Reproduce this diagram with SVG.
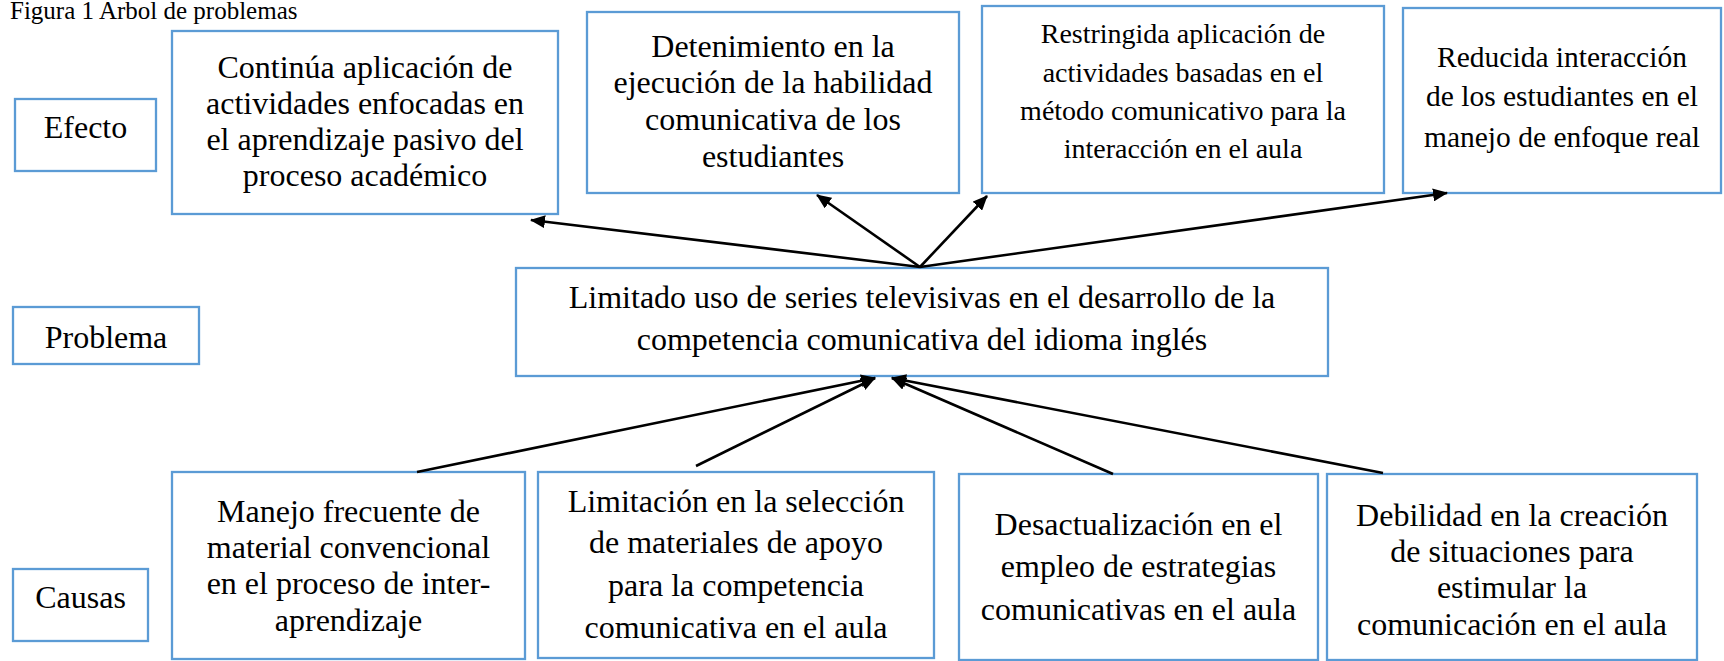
<svg xmlns="http://www.w3.org/2000/svg" width="1724" height="661" viewBox="0 0 1724 661">
<style>
.box{fill:#fff;stroke:#5b9bd5;stroke-width:2.3}
.t{font-family:"Liberation Serif","Times New Roman",serif;font-size:32px;text-anchor:middle;fill:#000}
.title{font-family:"Liberation Serif","Times New Roman",serif;font-size:25px;fill:#000}
.c{stroke:#000;stroke-width:2.6;fill:none;marker-end:url(#ah)}
</style>
<defs>
<marker id="ah" viewBox="0 0 15 13" refX="14" refY="6.5" markerWidth="15" markerHeight="13" markerUnits="userSpaceOnUse" orient="auto">
<path d="M0,0 L15,6.5 L0,13 z" fill="#000"/>
</marker>
</defs>
<rect width="1724" height="661" fill="#fff"/>
<text class="title" x="10" y="19">Figura 1 Arbol de problemas</text>

<g id="efecto">
<rect class="box" x="15" y="99" width="141" height="72"/>
<text class="t" x="85.5" y="138">Efecto</text>
</g>
<g id="problema-label">
<rect class="box" x="13" y="307" width="186" height="57"/>
<text class="t" x="106" y="348">Problema</text>
</g>
<g id="causas">
<rect class="box" x="13" y="569" width="135" height="72"/>
<text class="t" x="80.5" y="608">Causas</text>
</g>

<g id="efecto1">
<rect class="box" x="172" y="31" width="386" height="183"/>
<text class="t" x="365" y="78">Continúa aplicación de</text>
<text class="t" x="365" y="114">actividades enfocadas en</text>
<text class="t" x="365" y="150">el aprendizaje pasivo del</text>
<text class="t" x="365" y="186">proceso académico</text>
</g>
<g id="efecto2">
<rect class="box" x="587" y="12" width="372" height="181"/>
<text class="t" x="773" y="57">Detenimiento en la</text>
<text class="t" x="773" y="93">ejecución de la habilidad</text>
<text class="t" x="773" y="130">comunicativa de los</text>
<text class="t" x="773" y="167">estudiantes</text>
</g>
<g id="efecto3">
<rect class="box" x="982" y="6" width="402" height="187"/>
<text class="t" x="1183" y="43" style="font-size:28px">Restringida aplicación de</text>
<text class="t" x="1183" y="82" style="font-size:28px">actividades basadas en el</text>
<text class="t" x="1183" y="120" style="font-size:28px">método comunicativo para la</text>
<text class="t" x="1183" y="158" style="font-size:28px">interacción en el aula</text>
</g>
<g id="efecto4">
<rect class="box" x="1403" y="8" width="318" height="185"/>
<text class="t" x="1562" y="67" style="font-size:29.5px">Reducida interacción</text>
<text class="t" x="1562" y="106" style="font-size:29.5px">de los estudiantes en el</text>
<text class="t" x="1562" y="147" style="font-size:29.5px">manejo de enfoque real</text>
</g>

<g id="problema">
<rect class="box" x="516" y="268" width="812" height="108"/>
<text class="t" x="922" y="308">Limitado uso de series televisivas en el desarrollo de la</text>
<text class="t" x="922" y="350">competencia comunicativa del idioma inglés</text>
</g>

<g id="causa1">
<rect class="box" x="172" y="472" width="353" height="187"/>
<text class="t" x="348.5" y="522">Manejo frecuente de</text>
<text class="t" x="348.5" y="558">material convencional</text>
<text class="t" x="348.5" y="594">en el proceso de inter-</text>
<text class="t" x="348.5" y="631">aprendizaje</text>
</g>
<g id="causa2">
<rect class="box" x="538" y="472" width="396" height="186"/>
<text class="t" x="736" y="512">Limitación en la selección</text>
<text class="t" x="736" y="553">de materiales de apoyo</text>
<text class="t" x="736" y="596">para la competencia</text>
<text class="t" x="736" y="638">comunicativa en el aula</text>
</g>
<g id="causa3">
<rect class="box" x="959" y="474" width="359" height="186"/>
<text class="t" x="1138.5" y="535">Desactualización en el</text>
<text class="t" x="1138.5" y="577">empleo de estrategias</text>
<text class="t" x="1138.5" y="620">comunicativas en el aula</text>
</g>
<g id="causa4">
<rect class="box" x="1327" y="474" width="370" height="186"/>
<text class="t" x="1512" y="526">Debilidad en la creación</text>
<text class="t" x="1512" y="562">de situaciones para</text>
<text class="t" x="1512" y="598">estimular la</text>
<text class="t" x="1512" y="635">comunicación en el aula</text>
</g>

<g id="connectors">
<line class="c" x1="920" y1="267" x2="531" y2="220"/>
<line class="c" x1="920" y1="267" x2="817" y2="195"/>
<line class="c" x1="920" y1="267" x2="987" y2="196"/>
<line class="c" x1="920" y1="267" x2="1447" y2="193"/>
<line class="c" x1="417" y1="472" x2="875" y2="378"/>
<line class="c" x1="696" y1="466" x2="875" y2="378"/>
<line class="c" x1="1113" y1="474" x2="892" y2="378"/>
<line class="c" x1="1383" y1="473" x2="892" y2="378"/>
</g>
</svg>
